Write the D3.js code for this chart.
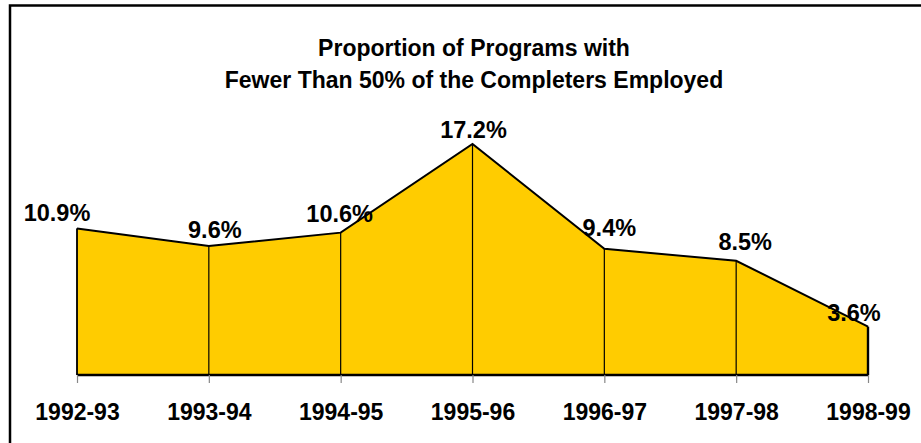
<!DOCTYPE html>
<html>
<head>
<meta charset="utf-8">
<script src="https://cdn.jsdelivr.net/npm/d3@7"></script>
<style>
  html, body { margin: 0; padding: 0; background: #fff; }
  svg { display: block; font-family: "Liberation Sans", Arial, sans-serif; font-weight: bold; }
</style>
</head>
<body>
<svg id="chart" width="921" height="443"></svg>
<script>
const categories = ["1992-93", "1993-94", "1994-95", "1995-96", "1996-97", "1997-98", "1998-99"];
const values = [10.9, 9.6, 10.6, 17.2, 9.4, 8.5, 3.6];
const valueLabels = ["10.9%", "9.6%", "10.6%", "17.2%", "9.4%", "8.5%", "3.6%"];
const titleLines = ["Proportion of Programs with", "Fewer Than 50% of the Completers Employed"];
// label nudges (layout only)
const labelDx = [-20, 6, -1, 1, 5, 9, -14];
const labelDy = [-8, -8, -11, -6, -13, -11, -6];

const svg = d3.select("#chart");
const W = 921, H = 443;

// outer frame (extends beyond the picture on right/bottom)
svg.append("rect")
  .attr("x", 10).attr("y", 5.5)
  .attr("width", W + 20).attr("height", H + 20)
  .attr("fill", "none").attr("stroke", "#000").attr("stroke-width", 2.5);

const x = d3.scalePoint().domain(categories).range([77, 868]);
const y = d3.scaleLinear().domain([0, 20]).range([375, 106.4]);

const data = categories.map((c, i) => ({ c, v: values[i], label: valueLabels[i], i }));

// area
const area = d3.area().x(d => x(d.c)).y0(y(0)).y1(d => y(d.v));
svg.append("path").datum(data)
  .attr("d", area)
  .attr("fill", "#FFCC00");

// drop lines
svg.append("g").selectAll("line").data(data).join("line")
  .attr("x1", d => x(d.c)).attr("x2", d => x(d.c))
  .attr("y1", y(0)).attr("y2", d => y(d.v))
  .attr("stroke", "#000").attr("stroke-width", 1.2);

// outline
const line = d3.line().x(d => x(d.c)).y(d => y(d.v));
svg.append("path").datum(data)
  .attr("d", line)
  .attr("fill", "none").attr("stroke", "#000").attr("stroke-width", 2);
svg.append("line")
  .attr("x1", x(categories[0])).attr("x2", x(categories[0]))
  .attr("y1", y(0)).attr("y2", y(values[0]))
  .attr("stroke", "#000").attr("stroke-width", 1.6);
svg.append("line")
  .attr("x1", x(categories[6])).attr("x2", x(categories[6]))
  .attr("y1", y(0)).attr("y2", y(values[6]))
  .attr("stroke", "#000").attr("stroke-width", 2.4);

// x axis
const xAxis = d3.axisBottom(x).tickSize(8).tickPadding(21);
const gx = svg.append("g").attr("transform", `translate(0,${y(0)})`).call(xAxis);
gx.select(".domain").attr("stroke", "#000").attr("stroke-width", 2.5)
  .attr("d", `M${x(categories[0])},0H${x(categories[6])}`);
gx.selectAll(".tick line").attr("stroke", "#888").attr("stroke-width", 1.2);
gx.selectAll(".tick text")
  .attr("fill", "#000")
  .style("font-family", '"Liberation Sans", Arial, sans-serif')
  .style("font-weight", "bold")
  .style("font-size", "23px");

// value labels
svg.append("g").selectAll("text").data(data).join("text")
  .attr("x", d => x(d.c) + labelDx[d.i])
  .attr("y", d => y(d.v) + labelDy[d.i])
  .attr("text-anchor", "middle")
  .style("font-size", "23.5px")
  .attr("fill", "#000")
  .text(d => d.label);

// title
svg.append("g").selectAll("text").data(titleLines).join("text")
  .attr("x", 474)
  .attr("y", (d, i) => 56 + i * 32)
  .attr("text-anchor", "middle")
  .style("font-size", "23px")
  .attr("fill", "#000")
  .text(d => d);
</script>
</body>
</html>
